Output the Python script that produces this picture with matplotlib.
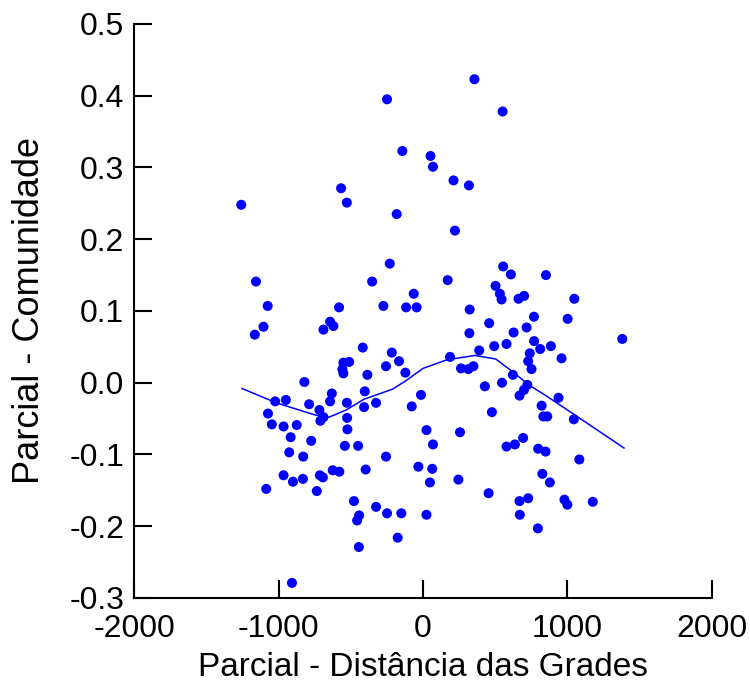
import numpy as np
import matplotlib
matplotlib.use('Agg')
import matplotlib.pyplot as plt

# partial residuals
dist = [-249, -143, 52, 69, -567, -527, -1258, -182, 356, 551,
        211, 318, 221, -1156, -1075, -1104, -1164, -581, -643, -620,
        -689, -230, -352, -274, -64, -117, -44, -417, -216, -166,
        -256, -551, -511, -558, -551, -385, -122, -821, -14, -631,
        -643, -403, -325, -408, -527, -1023, -949, -788, -717, -78,
        -525, -1073, -689, -710, -1046, -965, -874, -523, -916, -774,
        -541, -449, -256, 24, 69, -926, -829, -965, -900, -831,
        -714, -693, -625, -579, -397, -32, 64, 48, -1085, -735,
        -478, -325, -249, -150, 24, -442, -456, -175, -444, -907,
        256, 578, 636, 693, 797, 848, 1082, 245, 826, 878,
        454, 668, 728, 979, 999, 1175, 670, 795, 555, 608,
        851, 171, 502, 532, 544, 661, 700, 1047, 323, 768,
        1001, 458, 717, 321, 627, 769, 578, 493, 811, 885,
        389, 1379, 739, 728, 751, 959, 187, 263, 314, 349,
        622, 428, 547, 722, 699, 668, 938, 821, 833, 860,
        1044, 477]
comun = [0.395, 0.323, 0.316, 0.301, 0.271, 0.251, 0.248, 0.235, 0.423, 0.378,
         0.282, 0.275, 0.212, 0.141, 0.107, 0.078, 0.067, 0.105, 0.085, 0.079,
         0.074, 0.166, 0.141, 0.107, 0.124, 0.105, 0.105, 0.049, 0.042, 0.030,
         0.023, 0.028, 0.029, 0.019, 0.013, 0.011, 0.014, 0.001, -0.017, -0.015,
         -0.026, -0.012, -0.028, -0.034, -0.028, -0.026, -0.024, -0.030, -0.038, -0.033,
         -0.049, -0.043, -0.048, -0.053, -0.058, -0.061, -0.059, -0.065, -0.076, -0.081,
         -0.088, -0.088, -0.103, -0.066, -0.086, -0.097, -0.103, -0.129, -0.138, -0.134,
         -0.129, -0.132, -0.122, -0.124, -0.121, -0.117, -0.120, -0.139, -0.148, -0.151,
         -0.165, -0.173, -0.182, -0.182, -0.184, -0.185, -0.192, -0.216, -0.229, -0.279,
         -0.069, -0.089, -0.086, -0.077, -0.092, -0.096, -0.107, -0.135, -0.127, -0.139,
         -0.154, -0.165, -0.161, -0.163, -0.170, -0.166, -0.184, -0.203, 0.162, 0.151,
         0.150, 0.143, 0.135, 0.124, 0.116, 0.117, 0.121, 0.117, 0.102, 0.092,
         0.089, 0.083, 0.077, 0.069, 0.070, 0.058, 0.054, 0.051, 0.047, 0.051,
         0.045, 0.061, 0.041, 0.030, 0.019, 0.034, 0.036, 0.020, 0.019, 0.023,
         0.011, -0.005, 0.000, -0.003, -0.010, -0.018, -0.021, -0.032, -0.047, -0.047,
         -0.051, -0.041]

# smoothed trend (lowess) drawn as a polyline
fit_x = [-1253, -1016, -746, -650, -532, -408, -211, -117, 0, 166,
         359, 504, 622, 739, 843, 1037, 1391]
fit_y = [-0.008, -0.028, -0.045, -0.048, -0.038, -0.023, -0.009, 0.003, 0.020, 0.032,
         0.038, 0.033, 0.015, -0.004, -0.017, -0.043, -0.091]

xticks = [-2000, -1000, 0, 1000, 2000]
yticks = [-0.3, -0.2, -0.1, 0.0, 0.1, 0.2, 0.3, 0.4, 0.5]

plt.rcParams['font.family'] = ['Liberation Sans', 'DejaVu Sans']

fig = plt.figure(figsize=(7.5, 6.87), dpi=100)
ax = fig.add_axes([0.1787, 0.1296, 0.7706, 0.8355])

ax.scatter(dist, comun, s=52, color='#0000ff', edgecolors='none', zorder=3)
ax.plot(fit_x, fit_y, color='#0000ff', lw=1.1, zorder=2)

ax.set_xlim(-2000, 2000)
ax.set_ylim(-0.3, 0.5)
ax.set_xticks(xticks)
ax.set_yticks(yticks)
ax.set_xticklabels([str(t) for t in xticks])
ax.set_yticklabels(['%.1f' % t for t in yticks])

for s in ['top', 'right']:
    ax.spines[s].set_visible(False)
for s in ['left', 'bottom']:
    ax.spines[s].set_linewidth(1.5)

ax.tick_params(direction='in', length=13, width=1.5, labelsize=23)
ax.tick_params(axis='y', pad=7)
ax.tick_params(axis='x', pad=11.5)

ax.set_xlabel('Parcial - Distância das Grades', fontsize=24, labelpad=6)
ax.set_ylabel('Parcial - Comunidade', fontsize=26, labelpad=16)

fig.savefig('out.png', dpi=100)
